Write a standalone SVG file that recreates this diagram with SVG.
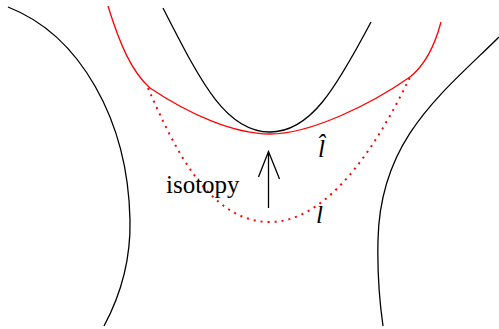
<svg xmlns="http://www.w3.org/2000/svg" width="499" height="329" viewBox="0 0 499 329">
<style>
.k{fill:none;stroke:#000;stroke-width:1.3}
.r{fill:none;stroke:#f00;stroke-width:1.3}
.d{fill:none;stroke:#f00;stroke-width:2;stroke-dasharray:2 5}
.t{font-family:"Liberation Serif",serif;fill:#000}
</style>
<g id="curves">
<path class="k" d="M8 7 C80 35 128 120 130 220 C131 265 118 300 104 326"/>
<path class="k" d="M499 37 C440 95 380 140 378 240 C377 280 380 305 383 326"/>
<path class="k" d="M163 8 C200 80 225 132 270 132 C310 132 335 90 371 22"/>
<path class="r" d="M108 6 C120 45 132 72 150 88 C190 115 235 134 270 134 C310 134 370 105 410 77 C425 65 435 45 441 22"/>
<path class="d" d="M148 88 C175 150 210 222 270 222 C330 222 380 140 410 77"/>
</g>
<g id="arrow">
<path class="k" d="M268.5 208 V151.5 M258.5 177 L268.5 151.5 L279.5 179"/>
</g>
<text class="t" x="166" y="193" font-size="25">isotopy</text>
<text class="t" x="318" y="157" font-size="25" font-style="italic">l̂</text>
<text class="t" x="316" y="223" font-size="25" font-style="italic">l</text>
</svg>
